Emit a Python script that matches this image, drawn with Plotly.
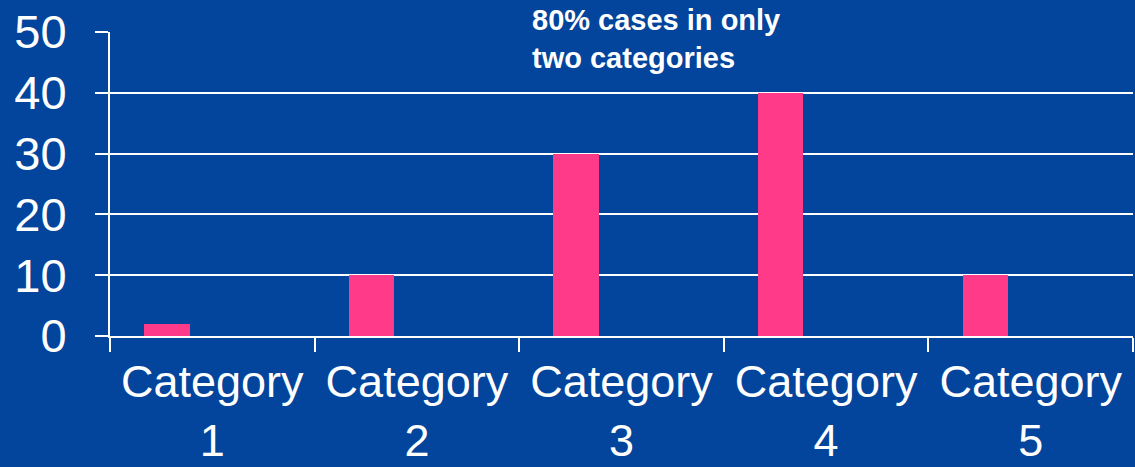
import plotly.graph_objects as go

categories = ["Category<br>1", "Category<br>2", "Category<br>3", "Category<br>4", "Category<br>5"]
values = [2, 10, 30, 40, 10]
y_ticks = [0, 10, 20, 30, 40, 50]
note = "80% cases in only<br>two categories"

BG = "#03449C"
PINK = "#FF3A88"
FONT = "Liberation Sans, Arial, sans-serif"

fig = go.Figure()
fig.add_trace(go.Bar(x=categories, y=values, marker=dict(color=PINK, line=dict(width=0)),
                     width=0.2222, offset=-0.3333))

fig.update_layout(
    width=1135, height=467,
    paper_bgcolor=BG, plot_bgcolor=BG,
    margin=dict(l=110, r=2, t=32, b=131, autoexpand=False),
    showlegend=False,
    font=dict(family=FONT, color="white"),
    bargap=0,
)
fig.update_xaxes(
    type="category", range=[-0.5, 4.5], tickson="boundaries",
    ticks="outside", ticklen=14, tickcolor="white", tickwidth=1.5,
    showline=True, linecolor="white", linewidth=2,
    showgrid=False, tickangle=0, ticklabelstandoff=5, automargin=False,
    tickfont=dict(size=45, color="white", family=FONT),
)
fig.update_yaxes(
    range=[0, 50], tickvals=y_ticks, ticks="outside", ticklen=13,
    tickcolor="white", tickwidth=1.5,
    showline=True, linecolor="white", linewidth=2,
    showgrid=True, gridcolor="white", gridwidth=1.5,
    zeroline=False, ticklabelstandoff=19, automargin=False,
    tickfont=dict(size=47, color="white", family=FONT),
)
fig.add_annotation(
    text="<b>" + note + "</b>", xref="paper", yref="paper",
    x=(530 - 110) / 1023, y=1 + 30 / 304, xanchor="left", yanchor="top",
    align="left", showarrow=False,
    font=dict(size=29, color="white", family=FONT),
)
fig.write_html("out.html", config={"displayModeBar": False},
               post_script="document.body.style.margin='0';document.body.style.overflow='hidden';")
